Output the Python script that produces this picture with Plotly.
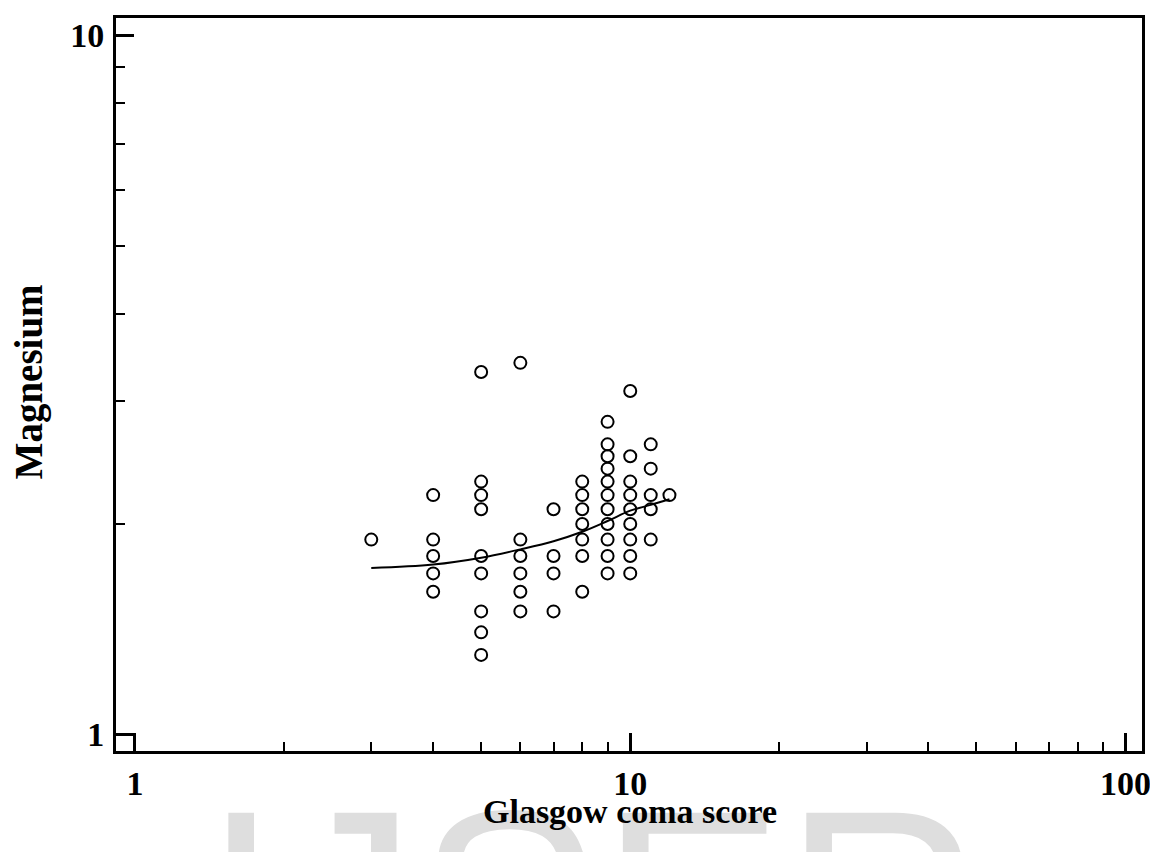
import plotly.graph_objects as go

# ---- data ----
gcs = ([3] + [4]*5 + [5]*9 + [6]*6 + [7]*4 + [8]*7 + [9]*11 + [10]*9 + [11]*5 + [12])
magnesium = ([1.9] +
             [2.2, 1.9, 1.8, 1.7, 1.6] +
             [3.3, 2.3, 2.2, 2.1, 1.8, 1.7, 1.5, 1.4, 1.3] +
             [3.4, 1.9, 1.8, 1.7, 1.6, 1.5] +
             [2.1, 1.8, 1.7, 1.5] +
             [2.3, 2.2, 2.1, 2.0, 1.9, 1.8, 1.6] +
             [2.8, 2.6, 2.5, 2.4, 2.3, 2.2, 2.1, 2.0, 1.9, 1.8, 1.7] +
             [3.1, 2.5, 2.3, 2.2, 2.1, 2.0, 1.9, 1.8, 1.7] +
             [2.6, 2.4, 2.2, 2.1, 1.9] +
             [2.2])
fit_x = [3, 4, 5, 6, 7, 8, 9, 10, 11, 12]
fit_y = [1.73, 1.75, 1.79, 1.84, 1.89, 1.95, 2.02, 2.09, 2.13, 2.17]

x_major = [1, 10, 100]
x_minor = [2, 3, 4, 5, 6, 7, 8, 9, 20, 30, 40, 50, 60, 70, 80, 90]
y_major = [1, 10]
y_minor = [2, 3, 4, 5, 6, 7, 8, 9]

# page body has an 8px margin; the figure is sized to fill the rest of the window
OFF = 8
W, H = 1158 - OFF, 852 - OFF
L, R, T, B = 116 - OFF, 14.5, 15 - OFF, 100.5
serif = "Liberation Serif, Times New Roman, serif"

fig = go.Figure()
fig.add_trace(go.Scatter(x=gcs, y=magnesium, mode="markers",
                         marker=dict(symbol="circle-open", size=12, color="black",
                                     line=dict(width=2, color="black")),
                         showlegend=False, hoverinfo="x+y"))
fig.add_trace(go.Scatter(x=fit_x, y=fit_y, mode="lines",
                         line=dict(color="black", width=2, shape="spline"),
                         showlegend=False))

axis_common = dict(showline=True, linecolor="black", linewidth=3, mirror=True,
                   showgrid=False, zeroline=False, ticks="inside", ticklen=18,
                   tickwidth=3, tickcolor="black",
                   tickfont=dict(family=serif, size=34, color="black", weight="bold"))

fig.update_xaxes(type="log", range=[-0.0383, 2.0333], tickmode="array",
                 tickvals=x_major, ticktext=[str(v) for v in x_major],
                 minor=dict(tickmode="array", tickvals=x_minor, ticks="inside",
                            ticklen=9, tickwidth=2, tickcolor="black", showgrid=False),
                 ticklabelstandoff=0, **axis_common)
fig.update_yaxes(type="log", range=[-0.0235, 1.0246], tickmode="array",
                 tickvals=y_major, ticktext=[str(v) for v in y_major],
                 minor=dict(tickmode="array", tickvals=y_minor, ticks="inside",
                            ticklen=9, tickwidth=2, tickcolor="black", showgrid=False),
                 ticklabelstandoff=2, **axis_common)

pw = W - L - R
ph = H - T - B

def px_x(px):  # window pixel -> paper fraction
    return (px - OFF - L) / pw

def px_y(py):
    return (H - B - (py - OFF)) / ph

annotations = [
    dict(text="IJSER", xref="paper", yref="paper", x=px_x(201), y=px_y(752),
         xanchor="left", yanchor="top", showarrow=False,
         font=dict(family="Liberation Sans, Arial, sans-serif", size=275, color="#dedede")),
    dict(text="Glasgow coma score", xref="paper", yref="paper", x=px_x(631), y=px_y(812),
         xanchor="center", yanchor="middle", showarrow=False,
         font=dict(family=serif, size=34, color="black", weight="bold")),
    dict(text="Magnesium", xref="paper", yref="paper", x=px_x(29), y=px_y(381),
         xanchor="center", yanchor="middle", showarrow=False, textangle=-90,
         font=dict(family=serif, size=39, color="black", weight="bold")),
]

fig.update_layout(width=W, height=H, margin=dict(l=L, r=R, t=T, b=B, pad=0),
                  plot_bgcolor="white", paper_bgcolor="white",
                  annotations=annotations, showlegend=False)

fig.write_html("out.html")
